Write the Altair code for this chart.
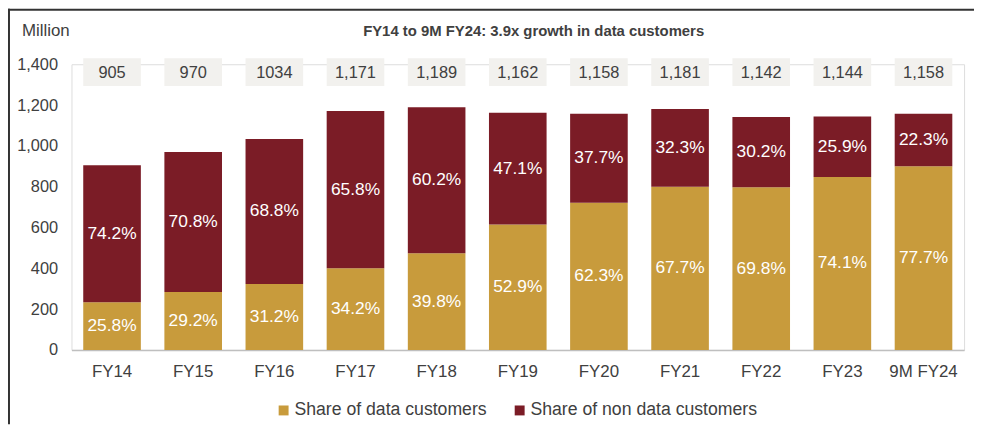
import altair as alt
import pandas as pd

cats = ["FY14", "FY15", "FY16", "FY17", "FY18", "FY19", "FY20", "FY21", "FY22", "FY23", "9M FY24"]
totals = [905, 970, 1034, 1171, 1189, 1162, 1158, 1181, 1142, 1144, 1158]
total_labels = ["905", "970", "1034", "1,171", "1,189", "1,162", "1,158", "1,181", "1,142", "1,144", "1,158"]
data_share = [25.8, 29.2, 31.2, 34.2, 39.8, 52.9, 62.3, 67.7, 69.8, 74.1, 77.7]
non_share = [74.2, 70.8, 68.8, 65.8, 60.2, 47.1, 37.7, 32.3, 30.2, 25.9, 22.3]
series = ["Share of data customers", "Share of non data customers"]
colors = ["#C89B3C", "#7B1C26"]
title_text = "FY14 to 9M FY24: 3.9x growth in data customers"

rows = []
for c, t, d, n in zip(cats, totals, data_share, non_share):
    dv = t * d / 100
    rows.append(dict(cat=c, series=series[0], y0=0, y1=dv, mid=dv / 2, label=f"{d}%"))
    rows.append(dict(cat=c, series=series[1], y0=dv, y1=t, mid=(dv + t) / 2, label=f"{n}%"))
df = pd.DataFrame(rows)
tot = pd.DataFrame(dict(cat=cats, label=total_labels))

FONT = "Liberation Sans"
TXT = "#404040"

x = alt.X("cat:N", sort=cats,
          scale=alt.Scale(paddingInner=0.29, paddingOuter=0.145),
          axis=alt.Axis(title=None, labelAngle=0, ticks=False, domainColor="#bfbfbf",
                        domainWidth=1.5, labelFontSize=17, labelPadding=14, labelColor=TXT))

base = alt.Chart(df)

bars = base.mark_bar().encode(
    x=x,
    y=alt.Y("y1:Q", scale=alt.Scale(domain=[0, 1400], nice=False),
            axis=alt.Axis(values=[0, 200, 400, 600, 800, 1000, 1200, 1400], format=",.0f",
                          title=None, domain=False, ticks=False, grid=False,
                          labelFontSize=16.5, labelPadding=14, labelColor=TXT)),
    y2="y0:Q",
    color=alt.Color("series:N", scale=alt.Scale(domain=series, range=colors),
                    legend=alt.Legend(title=None, orient="none", legendX=205, legendY=340,
                                      direction="horizontal", symbolType="square",
                                      symbolSize=100, labelFontSize=17.8, columnPadding=24,
                                      labelOffset=2, labelLimit=0, labelColor=TXT,
                                      symbolStrokeWidth=0, labelFont=FONT)),
)

pct = base.mark_text(color="white", fontSize=17.5, baseline="middle").encode(
    x=x, y=alt.Y("mid:Q"), text="label:N")

boxes = alt.Chart(tot).mark_bar(color="#f2f1ee").encode(
    x=x, y=alt.datum(1293), y2=alt.datum(1429))

box_text = alt.Chart(tot).mark_text(color=TXT, fontSize=16.5, baseline="middle").encode(
    x=x, y=alt.datum(1358), text="label:N")

one = alt.Chart(pd.DataFrame({"a": [0]}))
million = one.mark_text(text="Million", fontSize=17, color=TXT, align="left",
                        baseline="middle").encode(x=alt.value(-50), y=alt.value(-34))
title = one.mark_text(text=title_text, fontSize=15, fontWeight="bold", color=TXT,
                      align="center", baseline="middle").encode(
    x=alt.value(466), y=alt.value(-34))
top_rule = one.mark_rule(color="#333333", strokeWidth=2).encode(
    x=alt.value(-64), x2=alt.value(912), y=alt.value(-55))
left_rule = one.mark_rule(color="#333333", strokeWidth=2).encode(
    x=alt.value(-63), y=alt.value(-56), y2=alt.value(363))

chart = alt.layer(bars, pct, boxes, box_text, million, title, top_rule, left_rule).properties(
    width=900, height=288,
    padding={"left": 64, "top": 55, "right": 10, "bottom": 75},
    autosize=alt.AutoSizeParams(type="none"),
).configure_view(stroke=None).configure(font=FONT)

chart.save("out.html", embed_options={"renderer": "svg", "actions": False})
